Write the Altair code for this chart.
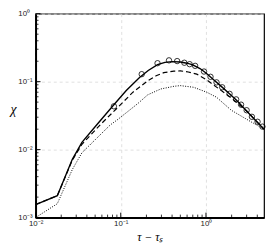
import altair as alt
import pandas as pd

# Solid line
solid_x = [0.01, 0.018, 0.027, 0.035, 0.052, 0.082, 0.116, 0.166, 0.21, 0.27, 0.33, 0.4, 0.5, 0.6, 0.7, 0.85, 1.0, 1.22, 1.5, 1.9, 2.3, 3.0, 3.7, 4.8]
solid_y = [0.00155, 0.0021, 0.0072, 0.0128, 0.023, 0.045, 0.074, 0.115, 0.146, 0.178, 0.192, 0.197, 0.195, 0.187, 0.177, 0.156, 0.134, 0.108, 0.086, 0.066, 0.053, 0.037, 0.028, 0.02]

# Dashed line
dash_x = [0.01, 0.018, 0.027, 0.035, 0.057, 0.089, 0.139, 0.207, 0.26, 0.32, 0.42, 0.5, 0.62, 0.78, 1.0, 1.39, 2.0, 3.0, 4.8]
dash_y = [0.00155, 0.0021, 0.007, 0.012, 0.023, 0.040, 0.070, 0.103, 0.122, 0.136, 0.143, 0.144, 0.139, 0.129, 0.108, 0.080, 0.057, 0.037, 0.02]

# Dotted line
dot_x = [0.01, 0.018, 0.027, 0.035, 0.075, 0.093, 0.158, 0.207, 0.294, 0.42, 0.5, 0.716, 1.02, 1.33, 1.98, 3.37, 4.8]
dot_y = [0.001, 0.0016, 0.0051, 0.009, 0.023, 0.028, 0.0475, 0.064, 0.078, 0.0855, 0.0875, 0.0827, 0.070, 0.059, 0.038, 0.0257, 0.02]

# Open circles
circ_x = [0.083, 0.176, 0.27, 0.368, 0.459, 0.557, 0.643, 0.746, 0.948, 1.13, 1.33, 1.55, 1.89, 2.26, 2.58, 3.0, 3.46, 4.03, 4.6]
circ_y = [0.0434, 0.129, 0.187, 0.206, 0.201, 0.190, 0.181, 0.171, 0.141, 0.118, 0.0977, 0.0827, 0.0663, 0.0549, 0.0459, 0.038, 0.0304, 0.0257, 0.0218]

# Axis ticks
x_major = [0.01, 0.1, 1]
y_major = [0.001, 0.01, 0.1, 1]
x_minor = [0.02, 0.03, 0.04, 0.05, 0.06, 0.07, 0.08, 0.09,
           0.2, 0.3, 0.4, 0.5, 0.6, 0.7, 0.8, 0.9, 2, 3, 4]
y_minor = [0.002, 0.003, 0.004, 0.005, 0.006, 0.007, 0.008, 0.009,
           0.02, 0.03, 0.04, 0.05, 0.06, 0.07, 0.08, 0.09,
           0.2, 0.3, 0.4, 0.5, 0.6, 0.7, 0.8, 0.9]

W, H = 232, 207

xs = alt.Scale(type="log", domain=[0.01, 4.8], nice=False)
ys = alt.Scale(type="log", domain=[0.001, 1], nice=False)

x_expr = "datum.value < 0.05 ? '10⁻²' : datum.value < 0.5 ? '10⁻¹' : '10⁰'"
y_expr = ("datum.value < 0.005 ? '10⁻³' : datum.value < 0.05 ? '10⁻²' : "
          "datum.value < 0.5 ? '10⁻¹' : '10⁰'")

xaxis = alt.Axis(values=x_major, labelExpr=x_expr, ticks=False, grid=True,
                 gridDash=[3, 3], gridColor="#d8d8d8", gridWidth=0.8,
                 domainColor="black", domainWidth=2,
                 labelFont="Liberation Sans", labelFontSize=8, labelColor="#222",
                 labelPadding=2, labelFlush=False,
                 title="τ − τₛ", titleFont="Liberation Serif", titleFontStyle="italic",
                 titleFontWeight="normal", titleFontSize=12, titleColor="black",
                 titleY=19, titleBaseline="middle")
yaxis = alt.Axis(values=y_major, labelExpr=y_expr, ticks=False, grid=True,
                 gridDash=[3, 3], gridColor="#d8d8d8", gridWidth=0.8,
                 domainColor="black", domainWidth=2,
                 labelFont="Liberation Sans", labelFontSize=8, labelColor="#222",
                 labelAlign="left", labelPadding=18, labelFlush=False,
                 labelBaseline="middle",
                 title="χ", titleFont="Liberation Serif", titleFontStyle="italic",
                 titleFontWeight="normal", titleFontSize=14, titleColor="black",
                 titleAngle=0, titleX=-23, titleY=97, titleAlign="center",
                 titleBaseline="middle")

df_solid = pd.DataFrame({"x": solid_x, "y": solid_y})
df_dash = pd.DataFrame({"x": dash_x, "y": dash_y})
df_dot = pd.DataFrame({"x": dot_x, "y": dot_y})
df_circ = pd.DataFrame({"x": circ_x, "y": circ_y})

X = alt.X("x:Q", scale=xs, axis=xaxis)
Y = alt.Y("y:Q", scale=ys, axis=yaxis)

solid = alt.Chart(df_solid).mark_line(color="black", strokeWidth=1.4).encode(x=X, y=Y)
dash = alt.Chart(df_dash).mark_line(color="black", strokeWidth=1.2, strokeDash=[5, 3]).encode(x=X, y=Y)
dot = alt.Chart(df_dot).mark_line(color="black", strokeWidth=1.0, strokeDash=[1, 1.5]).encode(x=X, y=Y)
circ = alt.Chart(df_circ).mark_point(shape="circle", filled=False, size=30, color="black",
                                     strokeWidth=0.8, opacity=1).encode(x=X, y=Y)

xmaj = alt.Chart(pd.DataFrame({"x": x_major})).mark_rule(color="black", strokeWidth=1).encode(
    x=X, y=alt.value(H), y2=alt.value(H - 5))
xmin = alt.Chart(pd.DataFrame({"x": x_minor})).mark_rule(color="black", strokeWidth=0.8).encode(
    x=X, y=alt.value(H), y2=alt.value(H - 3))
ymaj = alt.Chart(pd.DataFrame({"y": y_major})).mark_rule(color="black", strokeWidth=1).encode(
    y=Y, x=alt.value(0), x2=alt.value(5))
ymin = alt.Chart(pd.DataFrame({"y": y_minor})).mark_rule(color="black", strokeWidth=0.8).encode(
    y=Y, x=alt.value(0), x2=alt.value(3))

chart = alt.layer(dot, dash, solid, circ, xmin, xmaj, ymin, ymaj).properties(
    width=W, height=H,
    autosize=alt.AutoSizeParams(type="none"),
    padding={"left": 28, "top": 4, "right": 2, "bottom": 24},
    background="white",
).configure_view(stroke="black", strokeWidth=1.2)

chart.save("out.html", embed_options={"renderer": "svg", "actions": False})
